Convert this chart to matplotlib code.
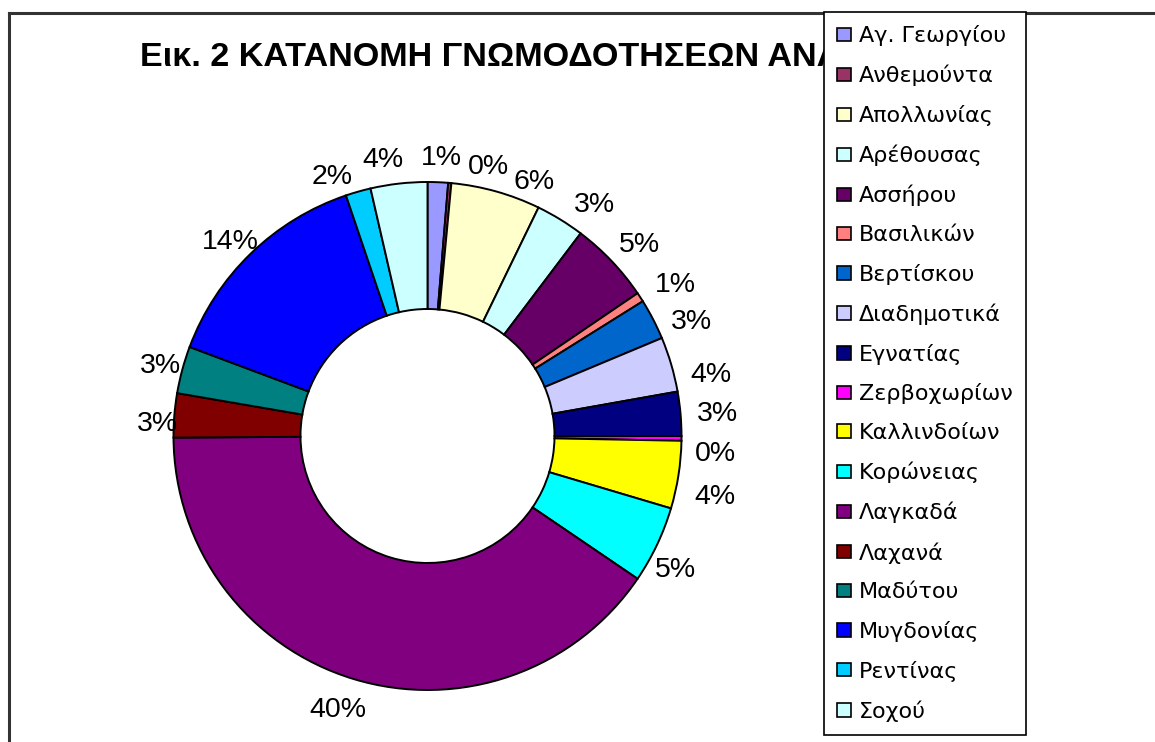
import matplotlib
matplotlib.use('Agg')
import matplotlib.pyplot as plt
from matplotlib.lines import Line2D
from matplotlib.patches import Patch
from matplotlib import font_manager
import numpy as np

categories = ['Αγ. Γεωργίου', 'Ανθεμούντα', 'Απολλωνίας', 'Αρέθουσας', 'Ασσήρου',
              'Βασιλικών', 'Βερτίσκου', 'Διαδημοτικά', 'Εγνατίας', 'Ζερβοχωρίων',
              'Καλλινδοίων', 'Κορώνειας', 'Λαγκαδά', 'Λαχανά', 'Μαδύτου',
              'Μυγδονίας', 'Ρεντίνας', 'Σοχού']
shares = [1.3, 0.2, 5.7, 3.1, 5.2, 0.6, 2.6, 3.5, 2.8, 0.3, 4.3, 4.9, 40.4,
          2.8, 3.0, 14.1, 1.6, 3.6]
colors = ['#9999FF', '#993366', '#FFFFCC', '#CCFFFF', '#660066', '#FF8080',
          '#0066CC', '#CCCCFF', '#000080', '#FF00FF', '#FFFF00', '#00FFFF',
          '#800080', '#800000', '#008080', '#0000FF', '#00CCFF', '#CCFFFF']
title = 'Εικ. 2 ΚΑΤΑΝΟΜΗ ΓΝΩΜΟΔΟΤΗΣΕΩΝ ΑΝΑ'

W, H = 1155, 742
fig = plt.figure(figsize=(W / 100, H / 100), dpi=100)
fig.patch.set_facecolor('white')

# donut axes placed in pixel terms
cx, cy, R = 427.5, 436, 254
half = 300
ax = fig.add_axes([(cx - half) / W, (H - cy - half) / H, 2 * half / W, 2 * half / H])
wedges, _ = ax.pie(shares, colors=colors, startangle=90, counterclock=False,
                   radius=1, wedgeprops=dict(width=0.5, edgecolor='black', linewidth=1.4))
ax.set_xlim(-half / R, half / R)
ax.set_ylim(-half / R, half / R)
ax.set_aspect('auto')
ax.axis('off')

# label nudges (pixels, y up) to mimic the original placement
nudges = {
    'Ανθεμούντα': (34, -8),
    'Απολλωνίας': (26, -14),
    'Αρέθουσας': (14, -6),
    'Βασιλικών': (4, 0),
    'Βερτίσκου': (5, -12),
    'Ζερβοχωρίων': (-3, -12),
    'Διαδημοτικά': (4, -15),
    'Καλλινδοίων': (0, -15),
    'Κορώνειας': (-15, -10),
    'Λαγκαδά': (-5, -2),
    'Λαχανά': (16, -8),
    'Μαδύτου': (10, 0),
    'Μυγδονίας': (9, -5),
    'Ρεντίνας': (-18, -9),
    'Σοχού': (-14, 0),
}
total = sum(shares)
for name, w, v in zip(categories, wedges, shares):
    phi = np.deg2rad((w.theta1 + w.theta2) / 2)
    lab = f'{v / total * 100:.0f}%'
    c, s = np.cos(phi), np.sin(phi)
    ndx, ndy = nudges.get(name, (0, 0))
    ax.annotate(lab, xy=(1.06 * c, 1.06 * s),
                xytext=(c * 10 * len(lab) + ndx + 2, s * 12 + ndy - 3),
                textcoords='offset pixels', ha='center', va='center',
                fontsize=20.5, family='Liberation Sans', color='black')

# outer frame
fig.add_artist(Line2D([9 / W, 1], [1 - 13 / H, 1 - 13 / H], transform=fig.transFigure,
                      color='#333333', lw=2.2))
fig.add_artist(Line2D([9 / W, 9 / W], [0, 1 - 13 / H], transform=fig.transFigure,
                      color='#333333', lw=2.2))

# title
avail = {f.name for f in font_manager.fontManager.ttflist}
tfam = ['Liberation Sans Narrow', 'Liberation Sans'] if 'Liberation Sans Narrow' in avail else ['Liberation Sans']
t = fig.text(140 / W, 1 - 58 / H, title, fontsize=20, fontweight='bold',
             family=tfam, ha='left', va='center', zorder=2)
fig.canvas.draw()
bb = t.get_window_extent()
t.set_fontsize(20 * 700 / bb.width)

# legend
handles = [Patch(facecolor=c, edgecolor='black', linewidth=1.2) for c in colors]
leg = fig.legend(handles, categories, loc='upper left', bbox_to_anchor=(824 / W, 1 - 12 / H),
                 borderaxespad=0, frameon=True, fancybox=False, edgecolor='black',
                 framealpha=1, prop=dict(family='DejaVu Sans', size=16),
                 handlelength=0.62, handleheight=0.55, handletextpad=0.35,
                 labelspacing=0.84, borderpad=0.6)
leg.get_frame().set_linewidth(1.2)
leg.set_zorder(10)

fig.savefig('out.png', dpi=100, facecolor='white')
